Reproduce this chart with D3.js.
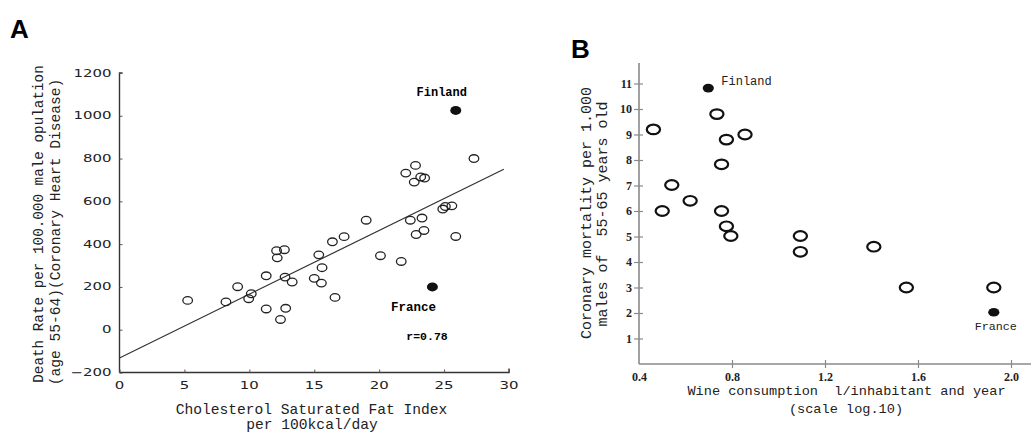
<!DOCTYPE html>
<html>
<head>
<meta charset="utf-8">
<script src="https://cdn.jsdelivr.net/npm/d3@7"></script>
<style>
  html, body { margin: 0; padding: 0; background: #fff; }
  svg { display: block; }
  text { white-space: pre; }
</style>
</head>
<body>
<svg id="chart" width="1033" height="432"></svg>
<script>
// Panel A: saturated fat index vs coronary death rate
const fatIndex = [5.25, 8.2, 9.1, 9.95, 10.15, 11.3, 11.3, 12.1, 12.15, 12.7, 12.75, 13.3, 12.8, 12.4,
  15.0, 15.35, 15.6, 15.55, 16.6, 16.4, 17.3, 19.0, 20.1, 21.7, 22.4, 22.85, 23.3, 23.45,
  24.9, 25.1, 25.6, 25.9, 22.05, 22.8, 22.7, 23.2, 23.5, 27.3];
const deathRate = [137, 130, 201, 145, 168, 252, 97, 369, 336, 374, 246, 223, 100, 48,
  240, 350, 290, 218, 151, 411, 435, 512, 346, 319, 512, 445, 522, 464,
  564, 576, 579, 436, 732, 768, 690, 714, 709, 800];
const namedA = [{ name: "Finland", x: 25.9, y: 1025 }, { name: "France", x: 24.1, y: 200 }];
const fitA = { intercept: -132, slope: 29.8, xEnd: 29.6 };
const yTicksA = [-200, 0, 200, 400, 600, 800, 1000, 1200];
const xTicksA = [0, 5, 10, 15, 20, 25, 30];

// Panel B: wine consumption (log10) vs coronary mortality
const wineLog = [0.462, 0.735, 0.776, 0.856, 0.755, 0.541, 0.62, 0.50, 0.755, 0.776, 0.795,
  1.094, 1.094, 1.41, 1.55, 1.926];
const mortality = [9.2, 9.8, 8.8, 9.0, 7.83, 7.02, 6.4, 6.0, 6.0, 5.4, 5.02, 5.02, 4.4, 4.6, 3.0, 3.0];
const namedB = [{ name: "Finland", x: 0.698, y: 10.82 }, { name: "France", x: 1.926, y: 2.03 }];
const yTicksB = [1, 2, 3, 4, 5, 6, 7, 8, 9, 10, 11];
const xTicksB = [0.4, 0.8, 1.2, 1.6, 2.0];

const svg = d3.select("#chart");
const mono = "'Liberation Mono', 'Courier New', monospace";

// ---------- Panel A ----------
const xA = d3.scaleLinear().domain([0, 30]).range([119.5, 509]);
const yA = d3.scaleLinear().domain([-200, 1200]).range([372.5, 73]);
const gA = svg.append("g");

svg.append("text").attr("x", 10).attr("y", 38)
  .attr("font-family", "Arial, 'Liberation Sans', sans-serif").attr("font-weight", "bold")
  .attr("font-size", 26).text("A");

const axLA = gA.append("g").attr("transform", `translate(${xA(0)},0)`)
  .call(d3.axisRight(yA).tickValues(yTicksA).tickSize(3).tickFormat(() => ""));
axLA.select(".domain").attr("stroke", "#333").attr("stroke-width", 1.4).attr("d", `M3,${yA(1200)}H0V${yA(-200)}`);
axLA.selectAll(".tick line").attr("stroke", "#555");

const axBA = gA.append("g").attr("transform", `translate(0,${yA(-200)})`)
  .call(d3.axisTop(xA).tickValues(xTicksA).tickSize(3).tickFormat(() => ""));
axBA.select(".domain").attr("stroke", "#333").attr("stroke-width", 1.4).attr("d", `M${xA(0)},0H${xA(30)}V-4`);
axBA.selectAll(".tick line").attr("stroke", "#555");

// tick numerals: wide, short glyphs (stretched group per label)
const numFont = "'DejaVu Sans', 'Liberation Sans', sans-serif";
gA.selectAll("g.ylab").data(yTicksA).join("g").attr("class", "ylab")
  .attr("transform", d => `translate(${xA(0) - 8},${yA(d)}) scale(1.3,0.85)`)
  .append("text").attr("text-anchor", "end").attr("dy", "0.36em")
  .attr("font-family", numFont).attr("font-size", 11.5).attr("fill", "#222")
  .text(d => d < 0 ? "\u2212" + Math.abs(d) : String(d));
gA.selectAll("g.xlab").data(xTicksA).join("g").attr("class", "xlab")
  .attr("transform", d => `translate(${xA(d)},${yA(-200) + 16.5}) scale(1.3,0.85)`)
  .append("text").attr("text-anchor", "middle")
  .attr("font-family", numFont).attr("font-size", 11.5).attr("fill", "#222")
  .text(d => String(d));

// regression line
gA.append("line")
  .attr("x1", xA(0)).attr("y1", yA(fitA.intercept))
  .attr("x2", xA(fitA.xEnd)).attr("y2", yA(fitA.intercept + fitA.slope * fitA.xEnd))
  .attr("stroke", "#333").attr("stroke-width", 1.2);

gA.selectAll("ellipse.pt").data(fatIndex.map((v, i) => [v, deathRate[i]])).join("ellipse")
  .attr("class", "pt").attr("cx", d => xA(d[0])).attr("cy", d => yA(d[1]))
  .attr("rx", 4.8).attr("ry", 3.8).attr("fill", "none").attr("stroke", "#222").attr("stroke-width", 1.3);

gA.selectAll("ellipse.named").data(namedA).join("ellipse")
  .attr("class", "named").attr("cx", d => xA(d.x)).attr("cy", d => yA(d.y))
  .attr("rx", 5.5).attr("ry", 4.5).attr("fill", "#111");

gA.append("text").attr("x", xA(namedA[0].x) - 14).attr("y", 96).attr("text-anchor", "middle")
  .attr("font-family", mono).attr("font-weight", "bold").attr("font-size", 12).text("Finland");
gA.append("text").attr("x", xA(namedA[1].x) - 19).attr("y", 311).attr("text-anchor", "middle")
  .attr("font-family", mono).attr("font-weight", "bold").attr("font-size", 12.5).text("France");
gA.append("text").attr("x", 427).attr("y", 340).attr("text-anchor", "middle")
  .attr("font-family", mono).attr("font-weight", "bold").attr("font-size", 11.5).text("r=0.78");

gA.append("text").attr("x", 311.5).attr("y", 414).attr("text-anchor", "middle")
  .attr("font-family", mono).attr("font-size", 14.6).attr("fill", "#222")
  .text("Cholesterol Saturated Fat Index");
gA.append("text").attr("x", 312).attr("y", 429).attr("text-anchor", "middle")
  .attr("font-family", mono).attr("font-size", 14.6).attr("fill", "#222")
  .text("per 100kcal/day");
gA.append("text").attr("transform", "translate(43,224) rotate(-90)").attr("text-anchor", "middle")
  .attr("font-family", mono).attr("font-size", 14.3).attr("fill", "#222")
  .text("Death Rate per 100.000 male opulation");
gA.append("text").attr("transform", "translate(60,232) rotate(-90)").attr("text-anchor", "middle")
  .attr("font-family", mono).attr("font-size", 14.6).attr("fill", "#222")
  .text("(age 55-64)(Coronary Heart Disease)");

// ---------- Panel B ----------
const xB = d3.scaleLinear().domain([0.4, 2.0]).range([639, 1011]);
const yB = d3.scaleLinear().domain([0, 11]).range([364, 83.5]);
const gB = svg.append("g");

svg.append("text").attr("x", 571).attr("y", 58)
  .attr("font-family", "Arial, 'Liberation Sans', sans-serif").attr("font-weight", "bold")
  .attr("font-size", 26).text("B");

const axisGrey = "#8a8a8a";
gB.append("line").attr("x1", xB(0.4)).attr("x2", xB(0.4)).attr("y1", 63).attr("y2", yB(0))
  .attr("stroke", axisGrey).attr("stroke-width", 1.6);
gB.append("line").attr("x1", xB(0.4)).attr("x2", 1031).attr("y1", yB(0)).attr("y2", yB(0))
  .attr("stroke", axisGrey).attr("stroke-width", 1.6);

const axLB = gB.append("g").attr("transform", `translate(${xB(0.4)},0)`)
  .call(d3.axisLeft(yB).tickValues(yTicksB).tickSize(5).tickPadding(2));
axLB.select(".domain").remove();
axLB.selectAll(".tick line").attr("x2", 4).attr("x1", -5).attr("stroke", axisGrey).attr("stroke-width", 1.2);
axLB.selectAll(".tick text").attr("x", -7)
  .attr("font-family", "'Liberation Serif', 'Times New Roman', serif").attr("font-weight", "bold")
  .attr("font-size", 12).attr("fill", "#222");

const axBB = gB.append("g").attr("transform", `translate(0,${yB(0)})`)
  .call(d3.axisBottom(xB).tickValues(xTicksB).tickSize(4).tickFormat(d3.format(".1f")));
axBB.select(".domain").remove();
axBB.selectAll(".tick line").attr("y1", -4).attr("y2", 4).attr("stroke", axisGrey).attr("stroke-width", 1.2)
  .filter(d => d === 0.4).remove();
axBB.selectAll(".tick text").attr("y", 8)
  .attr("font-family", "'Liberation Serif', 'Times New Roman', serif").attr("font-weight", "bold")
  .attr("font-size", 12).attr("fill", "#222");

gB.selectAll("ellipse.pt").data(wineLog.map((v, i) => [v, mortality[i]])).join("ellipse")
  .attr("class", "pt").attr("cx", d => xB(d[0])).attr("cy", d => yB(d[1]))
  .attr("rx", 6.6).attr("ry", 4.8).attr("fill", "none").attr("stroke", "#111").attr("stroke-width", 2.2);

gB.selectAll("ellipse.named").data(namedB).join("ellipse")
  .attr("class", "named").attr("cx", d => xB(d.x)).attr("cy", d => yB(d.y))
  .attr("rx", 5.6).attr("ry", 4.3).attr("fill", "#111");

gB.append("text").attr("x", xB(namedB[0].x) + 13).attr("y", 85)
  .attr("font-family", mono).attr("font-size", 12).attr("fill", "#222").text("Finland");
gB.append("text").attr("x", xB(namedB[1].x) + 2).attr("y", 330).attr("text-anchor", "middle")
  .attr("font-family", mono).attr("font-size", 11.7).attr("fill", "#222").text("France");

gB.append("text").attr("x", 846.5).attr("y", 395).attr("text-anchor", "middle")
  .attr("font-family", mono).attr("font-size", 13.6).attr("fill", "#222")
  .text("Wine consumption  l/inhabitant and year");
gB.append("text").attr("x", 846).attr("y", 413).attr("text-anchor", "middle")
  .attr("font-family", mono).attr("font-size", 13.6).attr("fill", "#222")
  .text("(scale log.10)");
gB.append("text").attr("transform", "translate(591,213) rotate(-90)").attr("text-anchor", "middle")
  .attr("font-family", mono).attr("font-size", 15).attr("fill", "#222")
  .text("Coronary mortality per 1.000");
gB.append("text").attr("transform", "translate(607,214) rotate(-90)").attr("text-anchor", "middle")
  .attr("font-family", mono).attr("font-size", 15).attr("fill", "#222")
  .text("males of  55-65 years old");
</script>
</body>
</html>
